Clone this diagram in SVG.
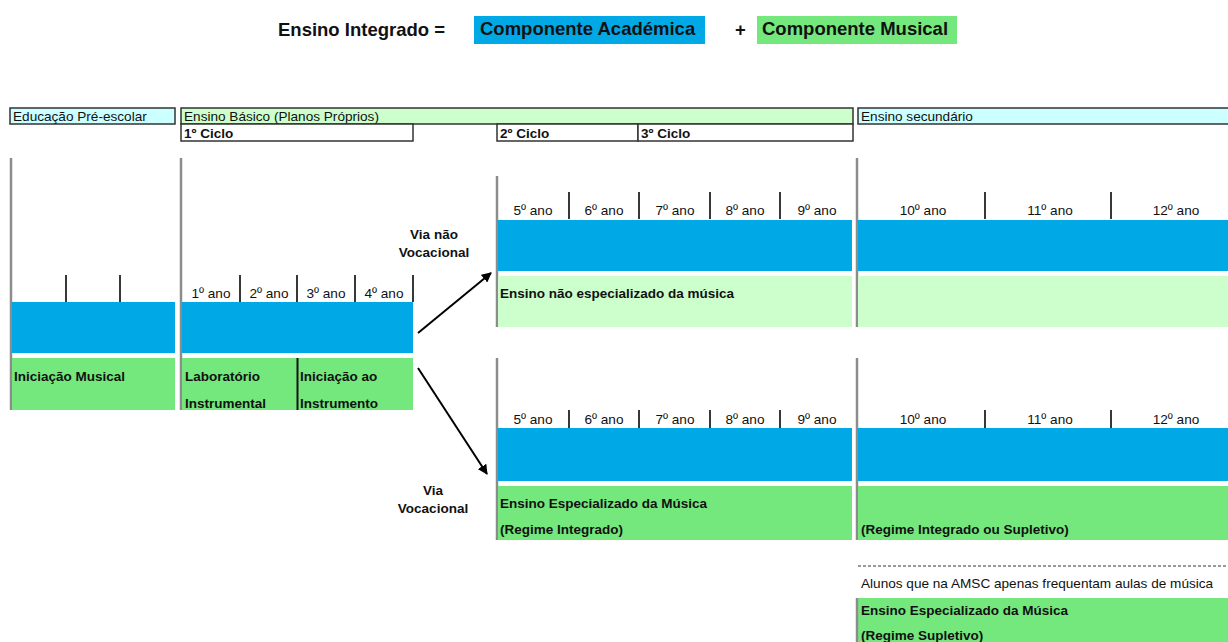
<svg xmlns="http://www.w3.org/2000/svg" width="1228" height="642" viewBox="0 0 1228 642">
<defs>
<style>
text{font-family:"Liberation Sans",Arial,sans-serif;fill:#111}
.t{font-size:18.5px;font-weight:bold}
.h{font-size:13.6px}
.b{font-size:13.5px;font-weight:bold}
.y{font-size:13.6px;text-anchor:middle}
.c{text-anchor:middle}
.blue{fill:#00a9e6}
.grn{fill:#74e87c}
.lg{fill:#ccffcc}
.hb{stroke:#333;stroke-width:1.5}
.vg{stroke:#8c8c8c;stroke-width:2.5}
.tk{stroke:#222;stroke-width:1.8}
.ar{stroke:#000;stroke-width:2;fill:none;marker-end:url(#ah)}
</style>
<marker id="ah" viewBox="0 0 10 10" refX="9" refY="5" markerWidth="5" markerHeight="5" orient="auto"><path d="M0,0L10,5L0,10z" fill="#000"/></marker>
</defs>
<rect width="1228" height="642" fill="#fff"/>

<g id="legend">
<text class="t" x="278" y="36">Ensino Integrado =</text>
<rect class="blue" x="474" y="16" width="231" height="28"/>
<text class="t" x="480" y="35">Componente Académica</text>
<text class="t" x="735" y="36">+</text>
<rect class="grn" x="757" y="16" width="200" height="28"/>
<text class="t" x="762" y="35">Componente Musical</text>
</g>

<g id="headers">
<rect class="hb" x="10" y="108" width="165" height="16" fill="#ccffff"/>
<text class="h" x="13" y="121">Educação  Pré-escolar</text>
<rect class="hb" x="181" y="108" width="672" height="16" fill="#ccffcc"/>
<text class="h" x="184" y="121">Ensino Básico (Planos Próprios)</text>
<rect class="hb" x="858" y="108" width="372" height="16" fill="#ccffff"/>
<text class="h" x="861" y="121">Ensino secundário</text>
<rect class="hb" x="181" y="124" width="232" height="17" fill="#fff"/>
<text class="b" x="184" y="137.5">1º Ciclo</text>
<rect class="hb" x="497" y="124" width="141" height="17" fill="#fff"/>
<text class="b" x="500" y="137.5">2º Ciclo</text>
<rect class="hb" x="638" y="124" width="215" height="17" fill="#fff"/>
<text class="b" x="641" y="137.5">3º Ciclo</text>
</g>

<g id="preescolar">
<line class="vg" x1="11" y1="158" x2="11" y2="410"/>
<line class="tk" x1="66" y1="275" x2="66" y2="302"/>
<line class="tk" x1="120" y1="275" x2="120" y2="302"/>
<rect class="blue" x="12" y="302" width="163" height="51"/>
<rect class="grn" x="12" y="358" width="163" height="52"/>
<text class="b" x="14" y="381">Iniciação Musical</text>
</g>

<g id="ciclo1">
<line class="vg" x1="181" y1="158" x2="181" y2="410"/>
<line class="tk" x1="240" y1="275" x2="240" y2="302"/>
<line class="tk" x1="297" y1="275" x2="297" y2="302"/>
<line class="tk" x1="355" y1="275" x2="355" y2="302"/>
<line class="tk" x1="413" y1="275" x2="413" y2="302"/>
<text class="y" x="211" y="298">1º ano</text>
<text class="y" x="269" y="298">2º ano</text>
<text class="y" x="326" y="298">3º ano</text>
<text class="y" x="384" y="298">4º ano</text>
<rect class="blue" x="182" y="302" width="231" height="51"/>
<rect class="grn" x="182" y="358" width="231" height="52"/>
<line x1="297.5" y1="358" x2="297.5" y2="410" stroke="#111" stroke-width="2"/>
<text class="b" x="185" y="381">Laboratório</text>
<text class="b" x="185" y="408">Instrumental</text>
<text class="b" x="300" y="381">Iniciação ao</text>
<text class="b" x="300" y="408">Instrumento</text>
</g>

<g id="connectors">
<line class="ar" x1="418" y1="333" x2="491" y2="273"/>
<line class="ar" x1="418" y1="368" x2="487" y2="474"/>
</g>

<g id="labels-via">
<text class="b c" x="434" y="239">Via não</text>
<text class="b c" x="434" y="257">Vocacional</text>
<text class="b c" x="433" y="495">Via</text>
<text class="b c" x="433" y="513">Vocacional</text>
</g>

<g id="basico-nao-vocacional">
<line class="vg" x1="497" y1="176" x2="497" y2="327"/>
<line class="tk" x1="569" y1="192" x2="569" y2="219"/>
<line class="tk" x1="639" y1="192" x2="639" y2="219"/>
<line class="tk" x1="710" y1="192" x2="710" y2="219"/>
<line class="tk" x1="780" y1="192" x2="780" y2="219"/>
<text class="y" x="533" y="215">5º ano</text>
<text class="y" x="604" y="215">6º ano</text>
<text class="y" x="675" y="215">7º ano</text>
<text class="y" x="745" y="215">8º ano</text>
<text class="y" x="817" y="215">9º ano</text>
<rect class="blue" x="498" y="220" width="354" height="51"/>
<rect class="lg" x="498" y="276" width="354" height="51"/>
<text class="b" x="500" y="298">Ensino não especializado da música</text>
</g>

<g id="secundario-nao-vocacional">
<line class="vg" x1="857" y1="158" x2="857" y2="327"/>
<line class="tk" x1="985" y1="192" x2="985" y2="219"/>
<line class="tk" x1="1111" y1="192" x2="1111" y2="219"/>
<text class="y" x="923" y="215">10º ano</text>
<text class="y" x="1050" y="215">11º ano</text>
<text class="y" x="1176" y="215">12º ano</text>
<rect class="blue" x="858" y="220" width="370" height="51"/>
<rect class="lg" x="858" y="276" width="370" height="51"/>
</g>

<g id="basico-vocacional">
<line class="vg" x1="497" y1="358" x2="497" y2="540"/>
<line class="tk" x1="569" y1="410" x2="569" y2="428"/>
<line class="tk" x1="639" y1="410" x2="639" y2="428"/>
<line class="tk" x1="710" y1="410" x2="710" y2="428"/>
<line class="tk" x1="780" y1="410" x2="780" y2="428"/>
<text class="y" x="533" y="424">5º ano</text>
<text class="y" x="604" y="424">6º ano</text>
<text class="y" x="675" y="424">7º ano</text>
<text class="y" x="745" y="424">8º ano</text>
<text class="y" x="817" y="424">9º ano</text>
<rect class="blue" x="498" y="428" width="354" height="53"/>
<rect class="grn" x="498" y="486" width="354" height="54"/>
<text class="b" x="500" y="508">Ensino Especializado da Música</text>
<text class="b" x="500" y="534">(Regime Integrado)</text>
</g>

<g id="secundario-vocacional">
<line class="vg" x1="857" y1="358" x2="857" y2="540"/>
<line class="tk" x1="985" y1="410" x2="985" y2="428"/>
<line class="tk" x1="1111" y1="410" x2="1111" y2="428"/>
<text class="y" x="923" y="424">10º ano</text>
<text class="y" x="1050" y="424">11º ano</text>
<text class="y" x="1176" y="424">12º ano</text>
<rect class="blue" x="858" y="428" width="370" height="53"/>
<rect class="grn" x="858" y="486" width="370" height="54"/>
<text class="b" x="861" y="534">(Regime Integrado ou Supletivo)</text>
</g>

<g id="supletivo">
<line x1="858" y1="566" x2="1228" y2="566" stroke="#333" stroke-width="1" stroke-dasharray="3,2"/>
<text x="861" y="588" style="font-size:13.6px">Alunos que na AMSC apenas frequentam aulas de música</text>
<rect class="grn" x="858" y="598" width="370" height="44"/>
<line class="vg" x1="857" y1="598" x2="857" y2="642"/>
<text class="b" x="861" y="615">Ensino Especializado da Música</text>
<text class="b" x="861" y="640">(Regime Supletivo)</text>
</g>
</svg>
